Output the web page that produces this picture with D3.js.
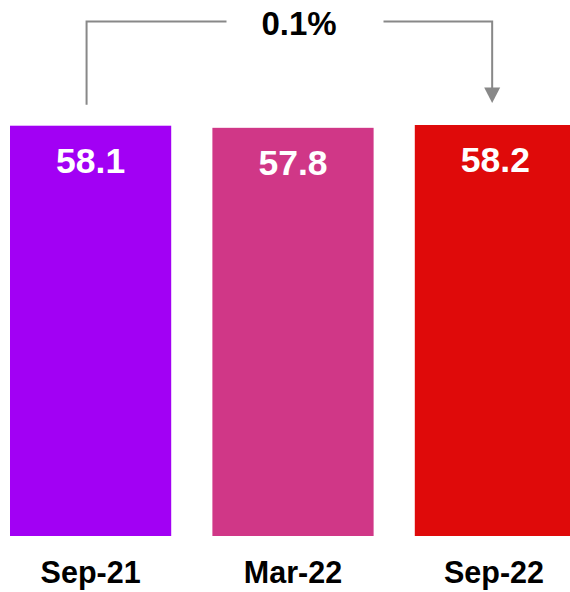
<!DOCTYPE html>
<html>
<head>
<meta charset="utf-8">
<script src="https://cdn.jsdelivr.net/npm/d3@7"></script>
<style>
  html, body { margin: 0; padding: 0; background: #fff; overflow: hidden; }
  svg { display: block; }
</style>
</head>
<body>
<script>
// Survey index by period
const categories = ["Sep-21", "Mar-22", "Sep-22"];
const values = [58.1, 57.8, 58.2];
const colors = ["#a200f4", "#d03787", "#df0a0a"];
const changeLabel = "0.1%";

const W = 570, H = 592;
const svg = d3.select("body").append("svg").attr("width", W).attr("height", H);

const x = d3.scaleBand().domain(categories).range([10, 576]).paddingInner(0.2035).paddingOuter(0);
const y = d3.scaleLinear().domain([0, 58.2]).range([536, 125]);

const font = "'Liberation Sans', Arial, sans-serif";

// bars
svg.selectAll("rect.bar").data(values).join("rect")
  .attr("class", "bar")
  .attr("x", (d, i) => x(categories[i]))
  .attr("y", d => y(d))
  .attr("width", x.bandwidth())
  .attr("height", d => y(0) - y(d))
  .attr("fill", (d, i) => colors[i]);

// value labels inside bars
svg.selectAll("text.val").data(values).join("text")
  .attr("class", "val")
  .attr("x", (d, i) => x(categories[i]) + x.bandwidth() / 2)
  .attr("y", d => y(d) + 47)
  .attr("text-anchor", "middle")
  .attr("font-family", font)
  .attr("font-weight", "bold")
  .attr("font-size", 35.5)
  .attr("fill", "#fff")
  .text(d => d.toFixed(1));

// category labels under the bars (last one kept inside the page)
svg.selectAll("text.cat").data(categories).join("text")
  .attr("class", "cat")
  .attr("x", d => Math.min(x(d) + x.bandwidth() / 2, 494))
  .attr("y", 583)
  .attr("text-anchor", "middle")
  .attr("font-family", font)
  .attr("font-weight", "bold")
  .attr("font-size", 30.5)
  .attr("fill", "#000")
  .text(d => d);

// change bracket from first to last period
const x0 = x(categories[0]) + x.bandwidth() * 0.475;
const x1 = x(categories[2]) + x.bandwidth() * 0.48;
const yTop = 21.5;
const grey = "#888888";

svg.append("path")
  .attr("d", `M${x0},${y(values[0]) - 21} V${yTop} H226.5`)
  .attr("fill", "none").attr("stroke", grey).attr("stroke-width", 2);
svg.append("path")
  .attr("d", `M383.5,${yTop} H${x1} V${89}`)
  .attr("fill", "none").attr("stroke", grey).attr("stroke-width", 2);
svg.append("path")
  .attr("d", `M${x1 - 8},${87.5} L${x1 + 8},${87.5} L${x1},${103} Z`)
  .attr("fill", grey);

svg.append("text")
  .attr("x", 299)
  .attr("y", 35)
  .attr("text-anchor", "middle")
  .attr("font-family", font)
  .attr("font-weight", "bold")
  .attr("font-size", 33)
  .attr("fill", "#000")
  .text(changeLabel);
</script>
</body>
</html>
